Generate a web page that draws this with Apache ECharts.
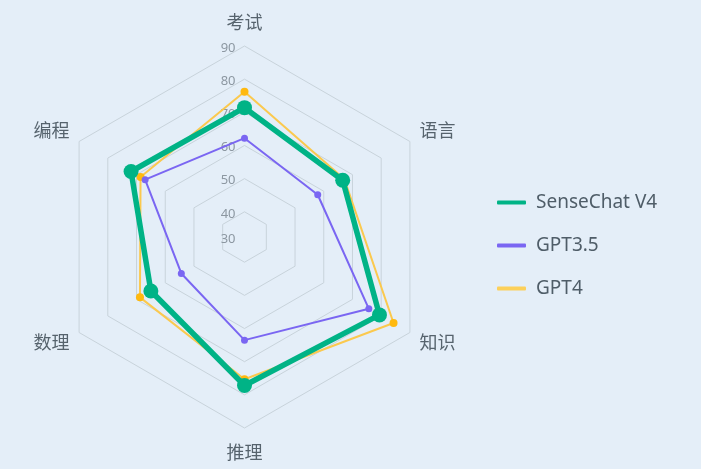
<!DOCTYPE html>
<html>
<head>
<meta charset="utf-8">
<script src="https://cdn.jsdelivr.net/npm/echarts@6/dist/echarts.min.js"></script>
<style>
  html, body { margin: 0; padding: 0; background: #e4eef8; }
  #chart { width: 701px; height: 469px; }
</style>
</head>
<body>
<div id="chart"></div>
<script>
  // ── Data (clockwise from the top) ───────────────────────────────────────
  const indicators = ['考试', '语言', '知识', '推理', '数理', '编程'];
  const senseChatV4 = [71.4, 66.6, 79.4, 77.2, 65.0, 71.9];
  const gpt35 = [62.2, 57.9, 75.7, 63.5, 54.4, 67.0];
  const gpt4 = [76.2, 67.2, 84.3, 75.3, 68.8, 68.6];
  const tickLabels = ['30', '40', '50', '60', '70', '80', '90'];
  const ringValues = [40, 50, 60, 70, 80, 90];
  const RADAR_MIN = 32.4;   // value at the centre
  const RADAR_MAX = 90;

  const FONT = '"Noto Sans", "Noto Sans CJK SC", sans-serif';

  // ECharts lays radar axes out counter-clockwise, so flip the order (top stays first)
  const order = indicators.map((_, i) => (indicators.length - i) % indicators.length);
  const cw = arr => order.map(i => arr[i]);

  // name placement style per position, in clockwise order from the top
  const nameSlot = ['top', 'upper', 'lower', 'bottom', 'lower', 'upper'];

  // ── Grid rings (radar series, so they follow the scale) ─────────────────
  function ringSeries(value, label) {
    return {
      type: 'radar',
      silent: true,
      z: 1,
      symbol: 'circle',
      symbolSize: 0,
      lineStyle: { color: '#c8d3db', width: 1 },
      itemStyle: { color: 'transparent' },
      label: {
        show: true,
        position: 'left',
        distance: 9,
        offset: [0, 2],
        color: '#8c97a1',
        fontSize: 13,
        fontFamily: FONT,
        formatter: p => (p.dimensionIndex === 0 ? label : '')
      },
      emphasis: { disabled: true },
      tooltip: { show: false },
      data: [{ value: indicators.map(() => value) }]
    };
  }

  const rings = [ringSeries(RADAR_MIN, tickLabels[0])]
    .concat(ringValues.map((v, i) => ringSeries(v, tickLabels[i + 1])));

  function dataSeries(name, values, lineColor, dotColor, width, size, z) {
    return {
      name,
      type: 'radar',
      z,
      symbol: 'circle',
      symbolSize: size,
      lineStyle: { color: lineColor, width },
      itemStyle: { color: dotColor },
      data: [{ name, value: cw(values) }]
    };
  }

  const chart = echarts.init(document.getElementById('chart'));
  chart.setOption({
    backgroundColor: '#e4eef8',
    animation: false,
    legend: {
      orient: 'vertical',
      left: 492,
      top: 188,
      icon: 'roundRect',
      itemWidth: 29,
      itemHeight: 4,
      itemGap: 24,
      textStyle: { color: '#4f5d68', fontSize: 19, fontFamily: FONT, padding: [0, 0, 0, 5] },
      data: [
        { name: 'SenseChat V4', itemStyle: { color: '#00b386' } },
        { name: 'GPT3.5', itemStyle: { color: '#7a66f2' } },
        { name: 'GPT4', itemStyle: { color: '#fcd05a' } }
      ]
    },
    radar: {
      center: [244.5, 237],
      radius: 191,
      startAngle: 90,
      shape: 'polygon',
      splitNumber: 6,
      nameGap: 11,
      axisName: {
        color: '#56636d',
        fontSize: 18,
        fontFamily: FONT,
        formatter: name => `{${nameSlot[indicators.indexOf(name)]}|${name}}`,
        rich: {
          top: { padding: [0, 0, 2, 0] },
          upper: { padding: [0, 0, 8, 0] },
          lower: { padding: [12, 0, 0, 0] },
          bottom: { padding: [6, 0, 0, 0] }
        }
      },
      axisLine: { show: false },
      splitLine: { show: false },
      splitArea: { show: false },
      indicator: cw(indicators).map(n => ({ name: n, min: RADAR_MIN, max: RADAR_MAX }))
    },
    series: rings.concat([
      dataSeries('GPT4', gpt4, '#fbc94e', '#ffb90f', 2, 8, 3),
      dataSeries('GPT3.5', gpt35, '#7a66f2', '#7a66f2', 2, 7, 4),
      dataSeries('SenseChat V4', senseChatV4, '#00b386', '#00b386', 5.5, 15, 5)
    ])
  });
</script>
</body>
</html>
